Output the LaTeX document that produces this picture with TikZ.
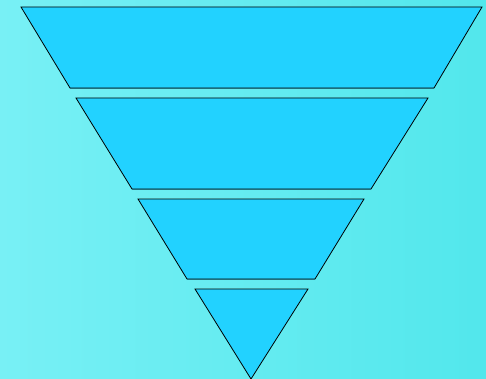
\documentclass[tikz,border=0pt]{standalone}
\definecolor{bgL}{HTML}{78F0F5}
\definecolor{bgR}{HTML}{52E7EC}
\definecolor{segfill}{HTML}{22D2FF}
\definecolor{edgedark}{HTML}{1E6E7A}
\tikzset{seg/.style={fill=segfill,draw=black,line width=0.8pt,line join=miter},
  segbase/.style={draw=edgedark,line width=1.4pt}}
\begin{document}
\begin{tikzpicture}[x=1pt,y=-1pt]
\shade[left color=bgL,right color=bgR] (0,0) rectangle (486,379);
\useasboundingbox (0,0) rectangle (486,379);
% tier 1
\draw[seg] (21,7) -- (482,7) -- (434,88) -- (70,88) -- cycle;
\draw[segbase] (70,88.5) -- (434,88.5);
% tier 2
\draw[seg] (76,98) -- (428,98) -- (371,189) -- (132,189) -- cycle;
\draw[segbase] (132,189.5) -- (371,189.5);
% tier 3
\draw[seg] (138,199) -- (364,199) -- (315,279) -- (187,279) -- cycle;
\draw[segbase] (187,279.5) -- (315,279.5);
% tier 4
\draw[seg] (195,289) -- (308,289) -- (251,379) -- cycle;
\end{tikzpicture}
\end{document}
